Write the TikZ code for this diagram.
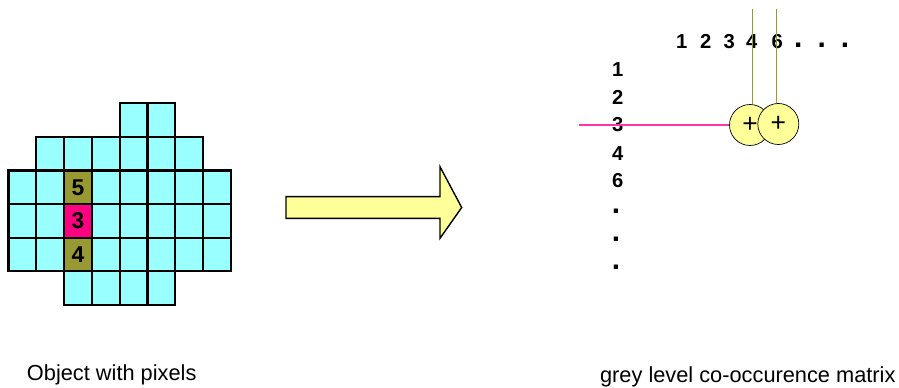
\documentclass[tikz,border=0pt]{standalone}
\usepackage{fontspec}
\setmainfont{Liberation Sans}
\usepackage{tikz}
\usetikzlibrary{calc}
\definecolor{pixcyan}{RGB}{153,255,255}
\definecolor{pixolive}{RGB}{153,153,51}
\definecolor{pixpink}{RGB}{255,0,128}
\definecolor{rowpink}{RGB}{255,51,170}
\definecolor{accyellow}{RGB}{255,255,153}

\begin{document}
\begin{tikzpicture}[
    x=0.02cm,y=-0.02cm,
    cell/.style={draw,line width=1.3pt,fill=pixcyan},
    mark5/.style={draw,line width=1.3pt,minimum width=0.556cm,
                  minimum height=0.672cm,inner sep=0pt,
                  font=\fontsize{13}{14}\selectfont\bfseries},
    olivecell/.style={mark5,fill=pixolive},
    pinkcell/.style={mark5,fill=pixpink},
    lab/.style={inner sep=0pt,font=\fontsize{11.5}{12}\selectfont\bfseries},
    dotlab/.style={lab,font=\fontsize{17}{18}\selectfont\bfseries},
    acc/.style={circle,draw,thin,fill=accyellow,minimum size=0.82cm,
                inner sep=0pt,font=\fontsize{15}{16}\selectfont},
    captxt/.style={font=\fontsize{12.4}{14}\selectfont},
  ]
    \useasboundingbox (0,0) rectangle (899,388);
    % object made of pixels
    \foreach \r/\cfirst/\clast in {0/4/5,1/1/6,2/0/7,3/0/7,4/0/7,5/2/5}
      \foreach \c in {\cfirst,...,\clast}
        \draw[cell] ({8.5+27.8*\c},{103.3+33.6*\r}) rectangle ++(27.8,33.6);
    \node[olivecell](p5) at (78,187.3){5};
    \node[pinkcell](p3) at (78,220.9){3};
    \node[olivecell](p4) at (78,254.5){4};
    \node[captxt](objcap) at (111.7,375){Object with pixels};
    % big arrow
    \draw[line width=0.8pt,fill=accyellow] (286,196.7) -- (440,196.7)
      -- (440,166.7) -- (461.7,207.5) -- (440,238.3) -- (440,218.3)
      -- (286,218.3) -- cycle;
    % matrix indices
    \foreach \t/\x in {1/681.7,2/705.7,3/729.3,4/751.7,6/777.3}
      \node[lab](t\t) at (\x,41.7){\t};
    \foreach \i/\x in {1/798.3,2/821.7,3/845}
      \node[dotlab,anchor=base](tdot\i) at (\x,47.5){.};
    \foreach \t/\y in {1/70,2/97.3,3/125,4/153.3,6/181}
      \node[lab](l\t) at (617.7,\y){\t};
    \foreach \i/\y in {1/211,2/239.3,3/267.7}
      \node[dotlab](ldot\i) at (616,\y){.};
    % accumulator cells
    \coordinate (rowstart) at (579.3,125);
    \coordinate (colstart4) at (752.3,9.3);
    \coordinate (colstart6) at (776.3,9.3);
    \node[acc](c4) at (750,125){+};
    \node[acc](c6) at (778.3,124){+};
    \draw[rowpink,line width=0.9pt](rowstart)--(c4.west);
    \draw[pixolive,line width=0.8pt](colstart4)--(colstart4 |- c4.north);
    \draw[pixolive,line width=0.8pt](colstart6)--(colstart6 |- c6.north);
    \node[captxt](matcap) at (747.8,377){grey level co-occurence matrix};
  \end{tikzpicture}
\end{document}
